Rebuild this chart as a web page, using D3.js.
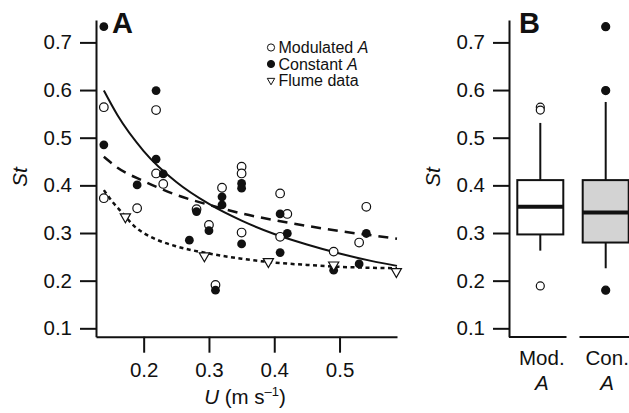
<!DOCTYPE html>
<html>
<head>
<meta charset="utf-8">
<script src="https://cdn.jsdelivr.net/npm/d3@7"></script>
<style>
  body { margin: 0; background: #fff; }
  svg text { font-family: "Liberation Sans", Arial, sans-serif; fill: #111; }
</style>
</head>
<body>
<svg id="chart" width="629" height="413"></svg>
<script>
// values
const modulatedPts = [
  [0.139, 0.564], [0.139, 0.373], [0.190, 0.352], [0.219, 0.558], [0.219, 0.425],
  [0.230, 0.403], [0.281, 0.350], [0.300, 0.317], [0.310, 0.191], [0.320, 0.395],
  [0.350, 0.439], [0.350, 0.425], [0.350, 0.301], [0.409, 0.383], [0.409, 0.292],
  [0.420, 0.340], [0.491, 0.261], [0.530, 0.280], [0.541, 0.355]
]
const constantPts = [
  [0.139, 0.733], [0.139, 0.485], [0.190, 0.401], [0.219, 0.599], [0.219, 0.455],
  [0.230, 0.424], [0.270, 0.285], [0.281, 0.345], [0.300, 0.305], [0.310, 0.180],
  [0.320, 0.376], [0.320, 0.359], [0.350, 0.404], [0.350, 0.394], [0.350, 0.277],
  [0.409, 0.340], [0.409, 0.259], [0.420, 0.299], [0.491, 0.222], [0.530, 0.235],
  [0.541, 0.299]
]
const flumePts = [[0.172, 0.334], [0.293, 0.252], [0.391, 0.240], [0.491, 0.233], [0.587, 0.219]]

// fitted curves
const solidFit = [[0.139, 0.599], [0.16, 0.547], [0.2, 0.472], [0.25, 0.407], [0.3, 0.361], [0.35, 0.326],
  [0.4, 0.298], [0.45, 0.276], [0.5, 0.257], [0.55, 0.241], [0.588, 0.231]]
const dashedFit = [[0.139, 0.46], [0.16, 0.437], [0.2, 0.409], [0.25, 0.38], [0.3, 0.359], [0.35, 0.341],
  [0.4, 0.327], [0.45, 0.315], [0.5, 0.304], [0.55, 0.295], [0.588, 0.288]]
const dottedFit = [[0.139, 0.39], [0.152, 0.366], [0.17, 0.338], [0.185, 0.315], [0.2, 0.300], [0.22, 0.286],
  [0.25, 0.272], [0.3, 0.257], [0.35, 0.246], [0.4, 0.238], [0.45, 0.233], [0.5, 0.229], [0.55, 0.227], [0.588, 0.226]]

const groups = ["Mod.", "Con."]
const boxStats = [
  { q1: 0.297, med: 0.355, q3: 0.411, lo: 0.263, hi: 0.531, out: [0.564, 0.558, 0.189] },
  { q1: 0.280, med: 0.343, q3: 0.411, lo: 0.226, hi: 0.575, out: [0.733, 0.599, 0.180] }
]
const yTicks = [0.1, 0.2, 0.3, 0.4, 0.5, 0.6, 0.7]
const xTicks = [0.2, 0.3, 0.4, 0.5]

const svg = d3.select("#chart")
const ink = "#111"

const y = d3.scaleLinear().domain([0.0824, 0.747]).range([336.7, 20])
const x = d3.scaleLinear().domain([0.127, 0.588]).range([96, 397])
const xB = d3.scalePoint().domain(groups).range([540.3, 605.7])
const boxW = 46

const styleAxis = (g) => {
  g.selectAll("path, line").attr("stroke", ink).attr("stroke-width", 2)
  g.selectAll("text").attr("font-size", 20.5).attr("fill", ink)
}

// ---- panel A ----
const gA = svg.append("g")

gA.append("g").attr("transform", "translate(96,0)")
  .call(d3.axisLeft(y).tickValues(yTicks).tickSize(16).tickSizeOuter(0).tickPadding(8).tickFormat(d3.format(".1f")))
  .call(styleAxis)

gA.append("g").attr("transform", "translate(0,336.7)")
  .call(d3.axisBottom(x).tickValues(xTicks).tickSize(16).tickSizeOuter(0).tickPadding(10).tickFormat(d3.format(".1f")))
  .call(styleAxis)

const line = d3.line().x(d => x(d[0])).y(d => y(d[1])).curve(d3.curveMonotoneX)
gA.append("path").attr("d", line(solidFit)).attr("fill", "none").attr("stroke", ink).attr("stroke-width", 2)
gA.append("path").attr("d", line(dashedFit)).attr("fill", "none").attr("stroke", ink).attr("stroke-width", 2.5)
  .attr("stroke-dasharray", "10,7")
gA.append("path").attr("d", line(dottedFit)).attr("fill", "none").attr("stroke", ink).attr("stroke-width", 2.5)
  .attr("stroke-dasharray", "4,3.5")

gA.selectAll(".mod").data(modulatedPts).join("circle")
  .attr("cx", d => x(d[0])).attr("cy", d => y(d[1])).attr("r", 4.3)
  .attr("fill", "#fff").attr("stroke", ink).attr("stroke-width", 1.2)
gA.selectAll(".con").data(constantPts).join("circle")
  .attr("cx", d => x(d[0])).attr("cy", d => y(d[1])).attr("r", 4.4)
  .attr("fill", ink)
const tri = d3.symbol(d3.symbolTriangle)
gA.selectAll(".flume").data(flumePts).join("path")
  .attr("d", tri.size(45)())
  .attr("transform", d => `translate(${x(d[0])},${y(d[1])}) rotate(180)`)
  .attr("fill", "#fff").attr("stroke", ink).attr("stroke-width", 1.2)

// legend
const legend = gA.append("g").attr("transform", "translate(271,0)")
const legendItems = [
  { label: "Modulated ", it: "A", yy: 47.5, kind: "open" },
  { label: "Constant ", it: "A", yy: 64, kind: "filled" },
  { label: "Flume data", it: "", yy: 80.5, kind: "tri" }
]
legendItems.forEach(it => {
  if (it.kind === "tri") {
    legend.append("path").attr("d", tri.size(24)()).attr("transform", `translate(0,${it.yy}) rotate(180)`)
      .attr("fill", "#fff").attr("stroke", ink).attr("stroke-width", 1)
  } else {
    legend.append("circle").attr("cx", 0).attr("cy", it.yy).attr("r", 3.6)
      .attr("fill", it.kind === "open" ? "#fff" : ink).attr("stroke", ink).attr("stroke-width", 1)
  }
  const t = legend.append("text").attr("x", 7.5).attr("y", it.yy + 5.5).attr("font-size", 16)
  t.append("tspan").text(it.label)
  if (it.it) t.append("tspan").attr("font-style", "italic").text(it.it)
})

gA.append("text").attr("x", 112).attr("y", 33).attr("font-size", 29).attr("font-weight", "bold").text("A")

gA.append("text").attr("transform", "translate(27,177) rotate(-90)").attr("text-anchor", "middle")
  .attr("font-size", 20.5).attr("font-style", "italic").text("St")

const xt = gA.append("text").attr("x", 245).attr("y", 404).attr("text-anchor", "middle").attr("font-size", 20.5)
xt.append("tspan").attr("font-style", "italic").text("U")
xt.append("tspan").text(" (m s")
xt.append("tspan").attr("font-size", 13).attr("dy", -8).text("\u20131")
xt.append("tspan").attr("dy", 8).text(")")

// ---- panel B ----
const gB = svg.append("g")
gB.append("g").attr("transform", "translate(509,0)")
  .call(d3.axisLeft(y).tickValues(yTicks).tickSize(16).tickSizeOuter(0).tickPadding(8).tickFormat(d3.format(".1f")))
  .call(styleAxis)

const gap = (xB(groups[0]) + xB(groups[1])) / 2
gB.append("line").attr("x1", 509).attr("x2", gap - 6.5).attr("y1", 337).attr("y2", 337).attr("stroke", ink).attr("stroke-width", 2)
gB.append("line").attr("x1", gap + 6.5).attr("x2", 640).attr("y1", 337).attr("y2", 337).attr("stroke", ink).attr("stroke-width", 2)

groups.forEach((g, i) => {
  const s = boxStats[i]
  const cx = xB(g)
  const bg = gB.append("g")
  bg.append("line").attr("x1", cx).attr("x2", cx).attr("y1", y(s.hi)).attr("y2", y(s.q3)).attr("stroke", ink).attr("stroke-width", 2)
  bg.append("line").attr("x1", cx).attr("x2", cx).attr("y1", y(s.q1)).attr("y2", y(s.lo)).attr("stroke", ink).attr("stroke-width", 2)
  bg.append("rect").attr("x", cx - boxW / 2).attr("y", y(s.q3)).attr("width", boxW).attr("height", y(s.q1) - y(s.q3))
    .attr("fill", i === 0 ? "#fff" : "#d3d3d3").attr("stroke", ink).attr("stroke-width", 2)
  bg.append("line").attr("x1", cx - boxW / 2).attr("x2", cx + boxW / 2).attr("y1", y(s.med)).attr("y2", y(s.med))
    .attr("stroke", ink).attr("stroke-width", 4)
  bg.selectAll(".out").data(s.out).join("circle")
    .attr("cx", cx).attr("cy", d => y(d)).attr("r", 4)
    .attr("fill", i === 0 ? "#fff" : ink).attr("stroke", ink).attr("stroke-width", 1.2)
  bg.append("text").attr("x", cx + 1.5).attr("y", 365).attr("text-anchor", "middle").attr("font-size", 20.5).text(g)
  bg.append("text").attr("x", cx + 1.5).attr("y", 390).attr("text-anchor", "middle").attr("font-size", 20.5)
    .attr("font-style", "italic").text("A")
})

gB.append("text").attr("x", 519).attr("y", 33).attr("font-size", 29).attr("font-weight", "bold").text("B")
gB.append("text").attr("transform", "translate(440,177) rotate(-90)").attr("text-anchor", "middle")
  .attr("font-size", 20.5).attr("font-style", "italic").text("St")
</script>
</body>
</html>
